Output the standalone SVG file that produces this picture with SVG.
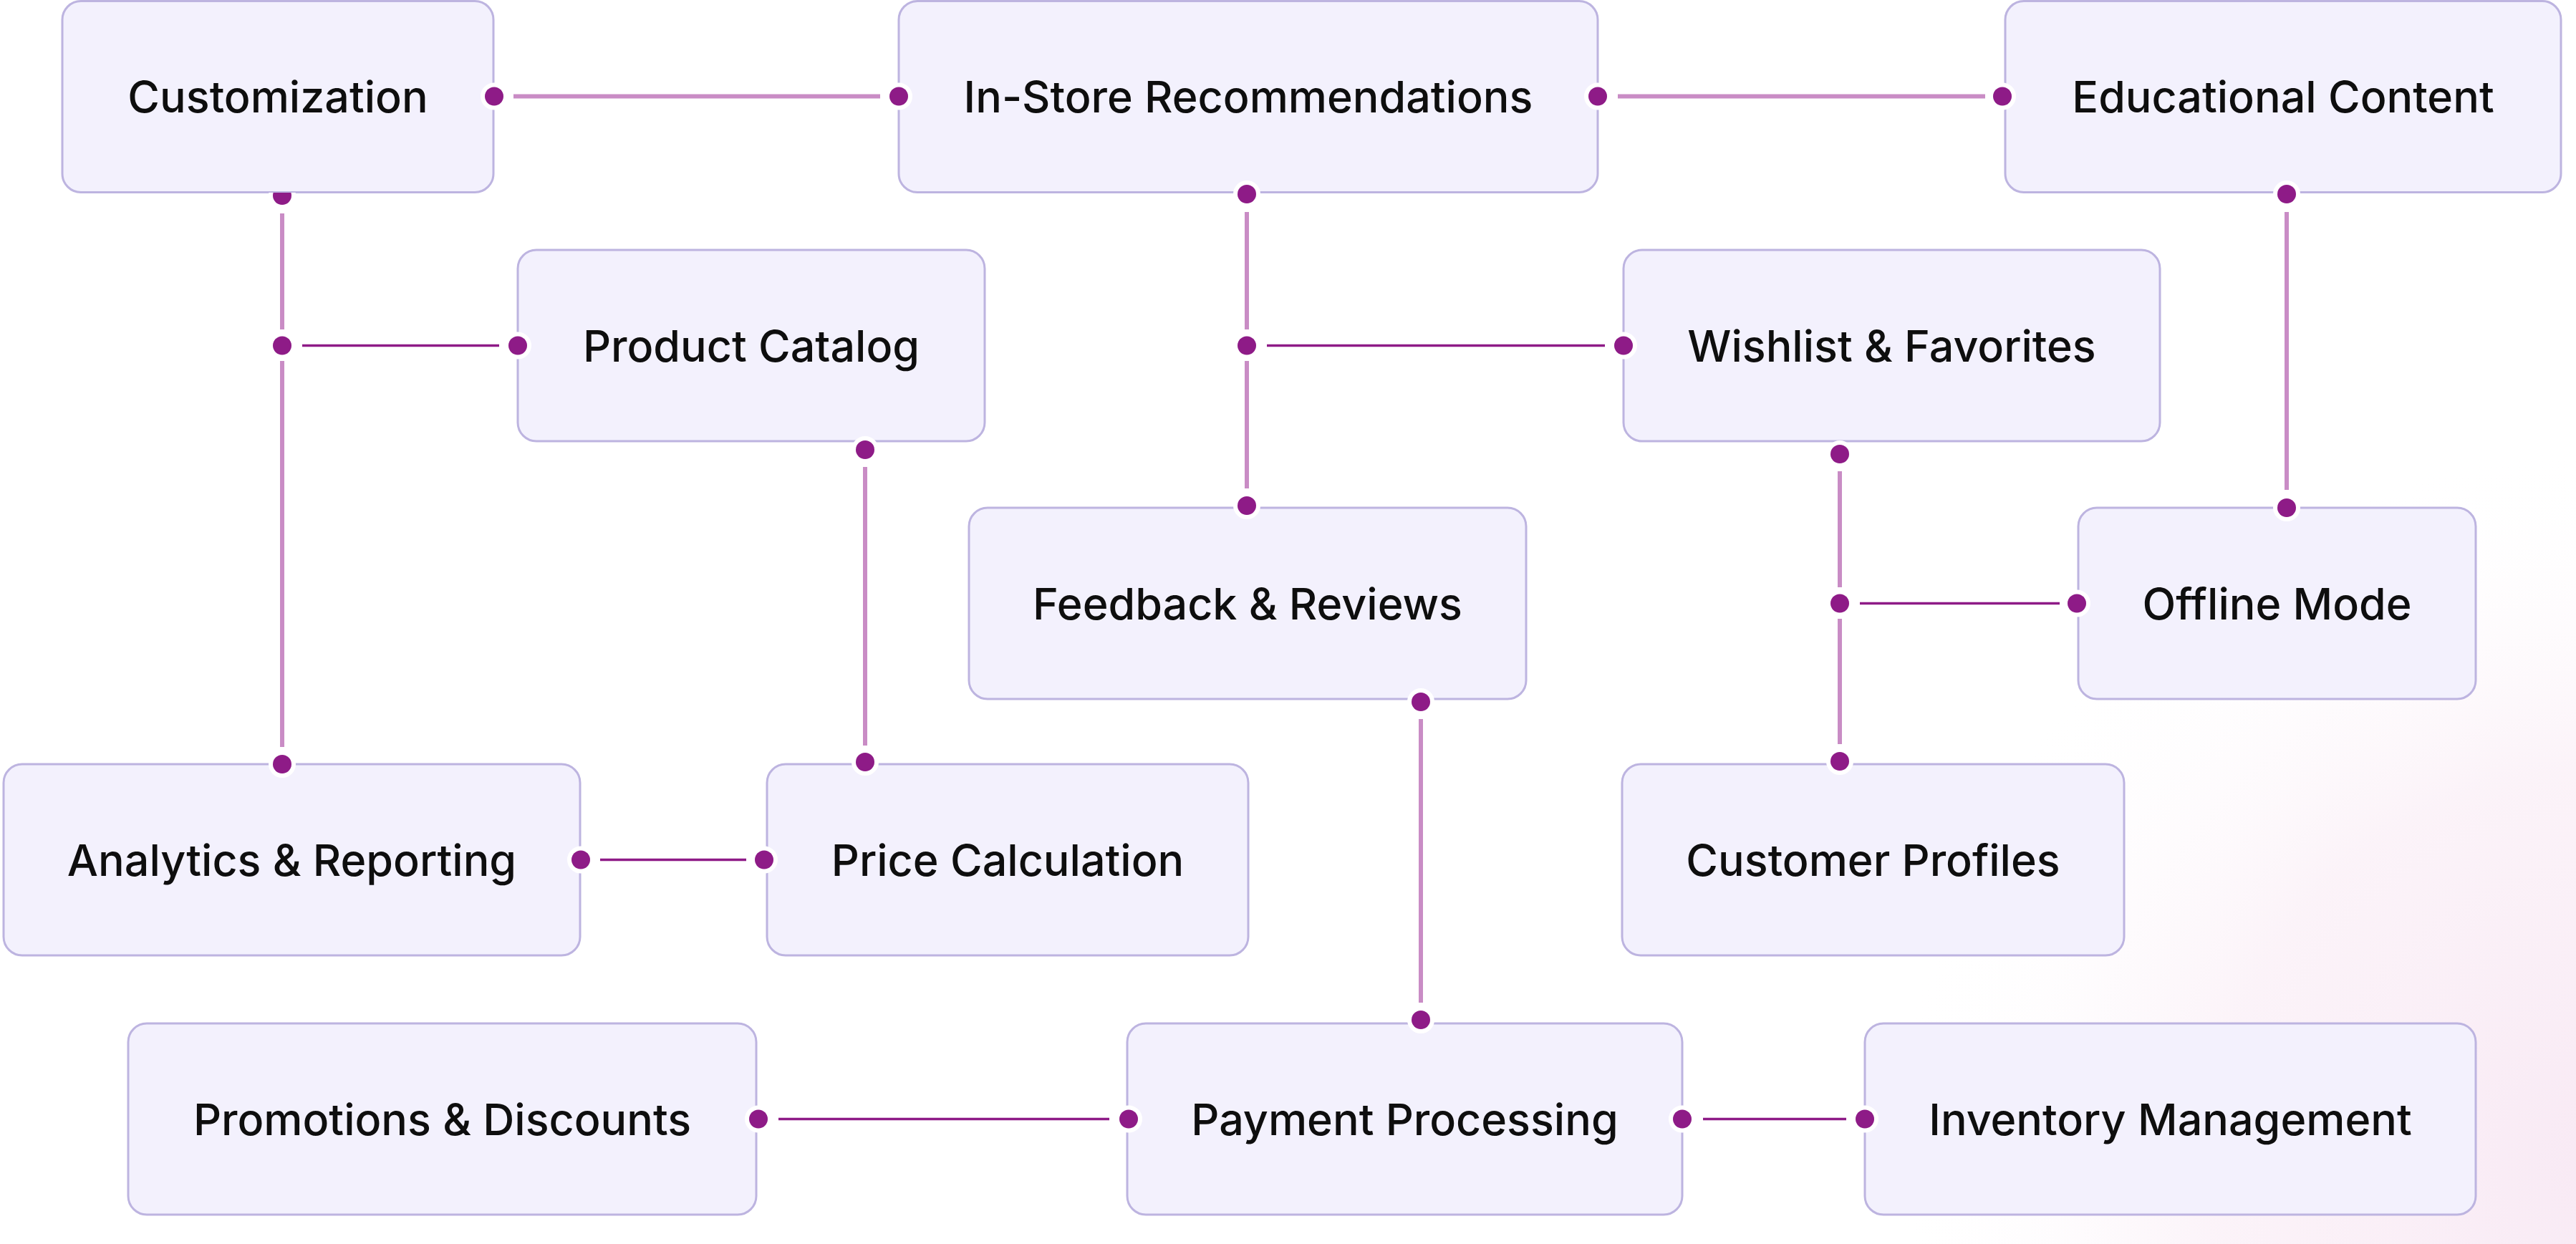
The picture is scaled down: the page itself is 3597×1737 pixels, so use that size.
<svg xmlns="http://www.w3.org/2000/svg" width="3597" height="1737" viewBox="0 0 3597 1737">
  <defs>
    <radialGradient id="glow" cx="3640" cy="1620" r="1000" gradientUnits="userSpaceOnUse">
      <stop offset="0" stop-color="#F8E9F4" stop-opacity="1"/>
      <stop offset="0.55" stop-color="#FAEEF6" stop-opacity="0.7"/>
      <stop offset="1" stop-color="#FFFFFF" stop-opacity="0"/>
    </radialGradient>
    <clipPath id="belowCust">
      <rect x="340" y="269" width="110" height="60"/>
    </clipPath>
  </defs>
  <style>
    .box { fill: #F3F1FD; stroke: #BDB4E0; stroke-width: 3; }
    .label { font-family: Inter, "Noto Sans", "Liberation Sans", sans-serif; font-size: 61px; font-weight: 500; fill: #0E0E0E; text-anchor: middle; }
    .light { stroke: #C98CC5; stroke-width: 6; fill: none; }
    .dark { stroke: #8E1B87; stroke-width: 3.5; fill: none; }
    .dot { fill: #8E1B87; stroke: #FFFFFF; stroke-width: 12; paint-order: stroke; }
  </style>
  <rect x="0" y="0" width="3597" height="1737" fill="#FFFFFF"/>
  <rect x="0" y="0" width="3597" height="1737" fill="url(#glow)"/>

  <g id="nodes">
    <g id="customization"><rect class="box" x="87" y="1.5" width="602" height="267" rx="26"/><text class="label" x="388" y="156.5">Customization</text></g>
    <g id="in-store-recommendations"><rect class="box" x="1255" y="1.5" width="976" height="267" rx="26"/><text class="label" x="1743" y="156.5">In-Store Recommendations</text></g>
    <g id="educational-content"><rect class="box" x="2800" y="1.5" width="776" height="267" rx="26"/><text class="label" x="3188" y="156.5">Educational Content</text></g>
    <g id="product-catalog"><rect class="box" x="723" y="349" width="652" height="267" rx="26"/><text class="label" x="1049" y="504.5">Product Catalog</text></g>
    <g id="wishlist-favorites"><rect class="box" x="2267" y="349" width="749" height="267" rx="26"/><text class="label" x="2641.5" y="504.5">Wishlist &amp; Favorites</text></g>
    <g id="feedback-reviews"><rect class="box" x="1353" y="709" width="778" height="267" rx="26"/><text class="label" x="1742" y="864.5">Feedback &amp; Reviews</text></g>
    <g id="offline-mode"><rect class="box" x="2902" y="709" width="555" height="267" rx="26"/><text class="label" x="3179.5" y="864.5">Offline Mode</text></g>
    <g id="analytics-reporting"><rect class="box" x="5" y="1067" width="805" height="267" rx="26"/><text class="label" x="407.5" y="1222.5">Analytics &amp; Reporting</text></g>
    <g id="price-calculation"><rect class="box" x="1071" y="1067" width="672" height="267" rx="26"/><text class="label" x="1407" y="1222.5">Price Calculation</text></g>
    <g id="customer-profiles"><rect class="box" x="2265" y="1067" width="701" height="267" rx="26"/><text class="label" x="2615.5" y="1222.5">Customer Profiles</text></g>
    <g id="promotions-discounts"><rect class="box" x="179" y="1429" width="877" height="267" rx="26"/><text class="label" x="617.5" y="1584.5">Promotions &amp; Discounts</text></g>
    <g id="payment-processing"><rect class="box" x="1574" y="1429" width="775" height="267" rx="26"/><text class="label" x="1961.5" y="1584.5">Payment Processing</text></g>
    <g id="inventory-management"><rect class="box" x="2604" y="1429" width="853" height="267" rx="26"/><text class="label" x="3030.5" y="1584.5">Inventory Management</text></g>
  </g>

  <g id="connectors">
    <!-- Customization - In-Store -->
    <line class="light" x1="717" y1="134.5" x2="1229" y2="134.5"/>
    <!-- In-Store - Educational -->
    <line class="light" x1="2259" y1="134.5" x2="2772" y2="134.5"/>
    <!-- Customization - Analytics, branch to Product Catalog -->
    <line class="light" x1="394" y1="298" x2="394" y2="460"/>
    <line class="light" x1="394" y1="504" x2="394" y2="1043"/>
    <line class="dark" x1="422" y1="482.5" x2="697" y2="482.5"/>
    <!-- Product Catalog - Price Calculation -->
    <line class="light" x1="1208" y1="652" x2="1208" y2="1041"/>
    <!-- Analytics - Price -->
    <line class="dark" x1="838" y1="1200.5" x2="1042" y2="1200.5"/>
    <!-- In-Store - Feedback, branch to Wishlist -->
    <line class="light" x1="1741" y1="296" x2="1741" y2="460"/>
    <line class="light" x1="1741" y1="504" x2="1741" y2="682"/>
    <line class="dark" x1="1769" y1="482.5" x2="2241" y2="482.5"/>
    <!-- Educational - Offline -->
    <line class="light" x1="3193" y1="296" x2="3193" y2="684"/>
    <!-- Wishlist - Customer Profiles, branch to Offline -->
    <line class="light" x1="2569" y1="658" x2="2569" y2="820"/>
    <line class="light" x1="2569" y1="864" x2="2569" y2="1039"/>
    <line class="dark" x1="2597" y1="842.5" x2="2876" y2="842.5"/>
    <!-- Feedback - Payment -->
    <line class="light" x1="1984" y1="1004" x2="1984" y2="1400"/>
    <!-- Promotions - Payment -->
    <line class="dark" x1="1087" y1="1562.5" x2="1549" y2="1562.5"/>
    <!-- Payment - Inventory -->
    <line class="dark" x1="2378" y1="1562.5" x2="2578" y2="1562.5"/>

    <g clip-path="url(#belowCust)"><circle class="dot" cx="394" cy="273" r="13"/></g>
    <circle class="dot" cx="690" cy="134.5" r="13"/>
    <circle class="dot" cx="1255" cy="134.5" r="13"/>
    <circle class="dot" cx="2231" cy="134.5" r="13"/>
    <circle class="dot" cx="2796" cy="134.5" r="13"/>
    <circle class="dot" cx="1741" cy="271" r="13"/>
    <circle class="dot" cx="3193" cy="271" r="13"/>
    <circle class="dot" cx="394" cy="482.5" r="13"/>
    <circle class="dot" cx="723" cy="482.5" r="13"/>
    <circle class="dot" cx="1741" cy="482.5" r="13"/>
    <circle class="dot" cx="2267" cy="482.5" r="13"/>
    <circle class="dot" cx="1208" cy="628" r="13"/>
    <circle class="dot" cx="2569" cy="634" r="13"/>
    <circle class="dot" cx="1741" cy="706" r="13"/>
    <circle class="dot" cx="3193" cy="709" r="13"/>
    <circle class="dot" cx="2569" cy="842.5" r="13"/>
    <circle class="dot" cx="2900" cy="842.5" r="13"/>
    <circle class="dot" cx="1984" cy="980" r="13"/>
    <circle class="dot" cx="394" cy="1067" r="13"/>
    <circle class="dot" cx="1208" cy="1064" r="13"/>
    <circle class="dot" cx="2569" cy="1063" r="13"/>
    <circle class="dot" cx="811" cy="1200.5" r="13"/>
    <circle class="dot" cx="1067" cy="1200.5" r="13"/>
    <circle class="dot" cx="1984" cy="1424" r="13"/>
    <circle class="dot" cx="1059" cy="1562.5" r="13"/>
    <circle class="dot" cx="1576" cy="1562.5" r="13"/>
    <circle class="dot" cx="2349" cy="1562.5" r="13"/>
    <circle class="dot" cx="2604" cy="1562.5" r="13"/>
  </g>
</svg>
